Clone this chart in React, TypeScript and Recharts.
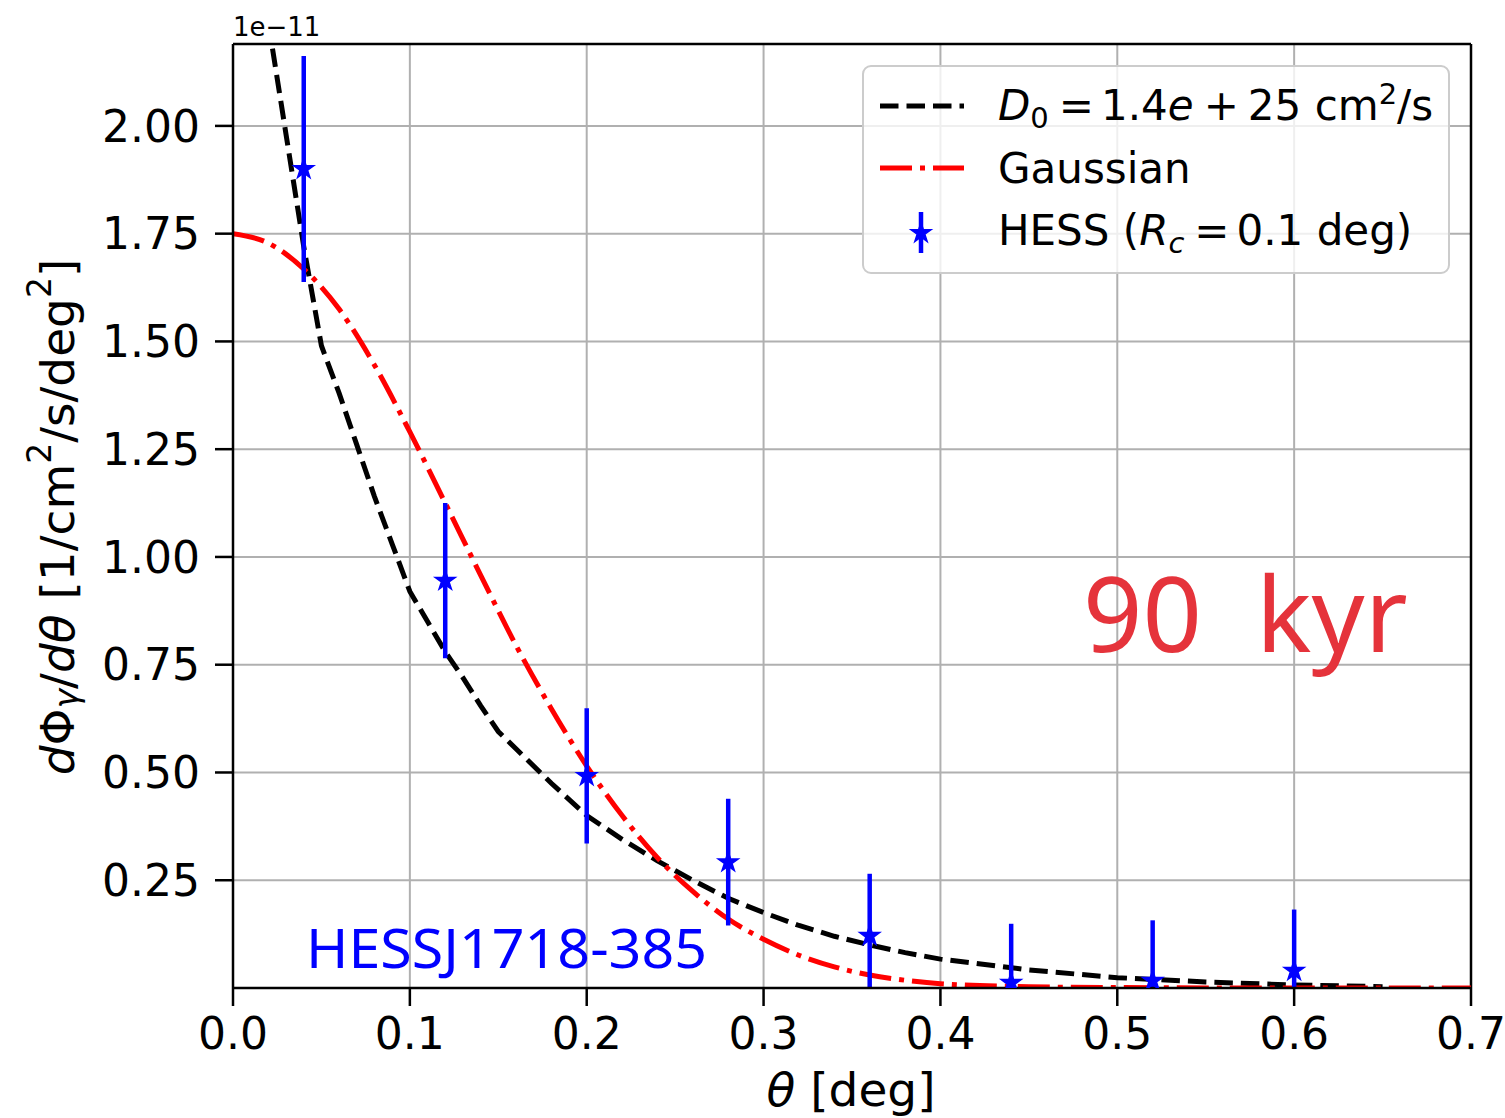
import React from "react";
import {
  ComposedChart,
  Line,
  Scatter,
  ErrorBar,
  XAxis,
  YAxis,
  CartesianGrid,
  ReferenceLine,
} from "recharts";

const W = 1505;
const H = 1118;
const FONT = "DejaVu Sans";

const THETA_TICKS = [0, 0.1, 0.2, 0.3, 0.4, 0.5, 0.6, 0.7];
const FLUX_TICKS = [0.25, 0.5, 0.75, 1.0, 1.25, 1.5, 1.75, 2.0];
const FLUX_MAX = 2.19; // top of axes, units of 1e-11

// diffusion model, D0 = 1.4e25 cm^2/s (flux in 1e-11)
const diffTheta = [0.02, 0.03, 0.04, 0.05, 0.06, 0.07, 0.08, 0.09, 0.1, 0.11, 0.12, 0.13, 0.14, 0.15, 0.16, 0.18, 0.2, 0.22, 0.24, 0.26, 0.28, 0.3, 0.32, 0.34, 0.36, 0.38, 0.4, 0.45, 0.5, 0.55, 0.6, 0.65];
const diffFlux = [2.24, 1.98, 1.72, 1.49, 1.38, 1.26, 1.14, 1.03, 0.92, 0.85, 0.78, 0.72, 0.655, 0.595, 0.555, 0.475, 0.4, 0.345, 0.295, 0.25, 0.208, 0.175, 0.145, 0.12, 0.1, 0.082, 0.067, 0.042, 0.024, 0.014, 0.007, 0.003];

// gaussian template
const gaussTheta = [0, 0.02, 0.04, 0.06, 0.08, 0.1, 0.12, 0.14, 0.16, 0.18, 0.2, 0.22, 0.24, 0.26, 0.28, 0.3, 0.32, 0.34, 0.36, 0.38, 0.4, 0.45, 0.5, 0.6, 0.7];
const gaussFlux = [1.75, 1.728, 1.668, 1.575, 1.445, 1.29, 1.125, 0.958, 0.795, 0.648, 0.515, 0.4, 0.302, 0.224, 0.16, 0.113, 0.076, 0.049, 0.03, 0.018, 0.01, 0.003, 0.001, 0, 0];

// HESS J1718-385 profile
const hessTheta = [0.04, 0.12, 0.2, 0.28, 0.36, 0.44, 0.52, 0.6];
const hessFlux = [1.9, 0.945, 0.492, 0.292, 0.121, 0.012, 0.017, 0.04];
const hessErr = [0.262, 0.18, 0.157, 0.147, 0.144, 0.137, 0.14, 0.142];

const diffData = diffTheta.map((x, i) => ({ x, y: diffFlux[i] }));
const gaussData = gaussTheta.map((x, i) => ({ x, y: gaussFlux[i] }));
// lower half of each bar stops at the x axis, like the clipped original
const hessData = hessTheta.map((x, i) => ({
  x,
  y: hessFlux[i],
  err: [Math.min(hessErr[i], hessFlux[i]), hessErr[i]],
}));

const BLUE = "#0000ff";
const LW = 5;
const DASH = "18.5 8";
const DASHDOT = "32 8 5 8";

function starPoints(cx: number, cy: number, R: number) {
  const r = R * 0.382;
  const pts: string[] = [];
  for (let i = 0; i < 10; i++) {
    const a = -Math.PI / 2 + (i * Math.PI) / 5;
    const rad = i % 2 === 0 ? R : r;
    pts.push(`${cx + rad * Math.cos(a)},${cy + rad * Math.sin(a)}`);
  }
  return pts.join(" ");
}

const Star = (props: any) => {
  const { cx, cy } = props;
  if (cx == null || cy == null) return null;
  return <polygon points={starPoints(cx, cy, 10.5)} fill={BLUE} stroke={BLUE} strokeWidth={1.5} />;
};

const tickStyle = { fontFamily: FONT, fontSize: 44, fill: "#000" };

export default function App() {
  return (
    <div style={{ position: "relative", width: W, height: H, background: "#fff" }}>
      <style>{"body{margin:0}"}</style>
      <ComposedChart
        width={W}
        height={H}
        margin={{ top: 44, right: 34, bottom: 0, left: 0 }}
      >
        <CartesianGrid stroke="#b0b0b0" strokeWidth={2} />
        <XAxis
          type="number"
          dataKey="x"
          domain={[0, 0.7]}
          ticks={THETA_TICKS}
          allowDataOverflow
          tickFormatter={(v: number) => v.toFixed(1)}
          tick={tickStyle}
          tickSize={18}
          tickMargin={12}
          height={130}
          stroke="#000"
          strokeWidth={2.5}
          tickLine={{ stroke: "#000", strokeWidth: 2.5 }}
        />
        <YAxis
          type="number"
          domain={[0, FLUX_MAX]}
          ticks={FLUX_TICKS}
          allowDataOverflow
          tickFormatter={(v: number) => v.toFixed(2)}
          tick={tickStyle}
          tickSize={18}
          tickMargin={15}
          width={233}
          stroke="#000"
          strokeWidth={2.5}
          tickLine={{ stroke: "#000", strokeWidth: 2.5 }}
        />
        <ReferenceLine y={FLUX_MAX} stroke="#000" strokeWidth={2.5} />
        <ReferenceLine x={0.7} stroke="#000" strokeWidth={2.5} />
        <Line
          data={diffData}
          dataKey="y"
          type="linear"
          stroke="#000"
          strokeWidth={LW}
          strokeDasharray={DASH}
          dot={false}
          isAnimationActive={false}
        />
        <Line
          data={gaussData}
          dataKey="y"
          type="monotone"
          stroke="#ff0000"
          strokeWidth={LW}
          strokeDasharray={DASHDOT}
          dot={false}
          isAnimationActive={false}
        />
        <Scatter data={hessData} dataKey="y" shape={<Star />} isAnimationActive={false}>
          <ErrorBar dataKey="err" direction="y" width={0} stroke={BLUE} strokeWidth={4.5} isAnimationActive={false} />
        </Scatter>
      </ComposedChart>

      <svg
        width={W}
        height={H}
        style={{ position: "absolute", left: 0, top: 0, pointerEvents: "none" }}
      >
        {/* offset text */}
        <text x={233} y={36} fontFamily={FONT} fontSize={26} fill="#000">1e−11</text>

        {/* axis titles */}
        <text
          transform="translate(57,517) rotate(-90)"
          textAnchor="middle"
          dominantBaseline="central"
          fontFamily={FONT}
          fontSize={47}
          fill="#000"
        >
          <tspan fontStyle="italic">d</tspan>
          <tspan>Φ</tspan>
          <tspan fontStyle="italic" fontSize={33} dy={9}>γ</tspan>
          <tspan dy={-9}>/</tspan>
          <tspan fontStyle="italic">dθ</tspan>
          <tspan> [1/cm</tspan>
          <tspan fontSize={33} dy={-18}>2</tspan>
          <tspan dy={18}>/s/deg</tspan>
          <tspan fontSize={33} dy={-18}>2</tspan>
          <tspan dy={18}>]</tspan>
        </text>
        <text x={851} y={1106} textAnchor="middle" fontFamily={FONT} fontSize={47} fill="#000">
          <tspan fontStyle="italic">θ</tspan>
          <tspan> [deg]</tspan>
        </text>

        {/* annotations */}
        <text x={1083} y={652} fontFamily="Noto Sans" fontSize={104} fill="#e5333b" style={{ whiteSpace: "pre" }}>
          90  kyr
        </text>
        <text
          x={306}
          y={968}
          fontFamily="Noto Sans"
          fontSize={54}
          fill={BLUE}
          textLength={401}
          lengthAdjust="spacingAndGlyphs"
        >
          HESSJ1718-385
        </text>

        {/* legend */}
        <rect x={863} y={66} width={586} height={207} rx={8} ry={8} fill="rgba(255,255,255,0.8)" stroke="#cccccc" strokeWidth={2} />
        <line x1={880} x2={964} y1={106} y2={106} stroke="#000" strokeWidth={LW} strokeDasharray={DASH} />
        <line x1={880} x2={964} y1={168} y2={168} stroke="#ff0000" strokeWidth={LW} strokeDasharray={DASHDOT} />
        <line x1={921} x2={921} y1={212} y2={253} stroke={BLUE} strokeWidth={4.5} />
        <polygon points={starPoints(921, 233, 10.5)} fill={BLUE} stroke={BLUE} strokeWidth={1.5} />
        <g fontFamily={FONT} fontSize={42} fill="#000">
          <text x={998} y={120}>
            <tspan fontStyle="italic">D</tspan>
            <tspan fontSize={29} dy={8}>0</tspan>
            <tspan dy={-8} dx={10}>=</tspan>
            <tspan dx={7}>1.4</tspan>
            <tspan fontStyle="italic">e</tspan>
            <tspan dx={10}>+</tspan>
            <tspan dx={9} style={{ whiteSpace: "pre" }}>25 cm</tspan>
            <tspan fontSize={29} dy={-16}>2</tspan>
            <tspan dy={16}>/s</tspan>
          </text>
          <text x={998} y={183}>Gaussian</text>
          <text x={998} y={245}>
            <tspan style={{ whiteSpace: "pre" }}>HESS (</tspan>
            <tspan fontStyle="italic">R</tspan>
            <tspan fontStyle="italic" fontSize={29} dy={8}>c</tspan>
            <tspan dy={-8} dx={10}>=</tspan>
            <tspan dx={7} style={{ whiteSpace: "pre" }}>0.1 deg)</tspan>
          </text>
        </g>
      </svg>
    </div>
  );
}
